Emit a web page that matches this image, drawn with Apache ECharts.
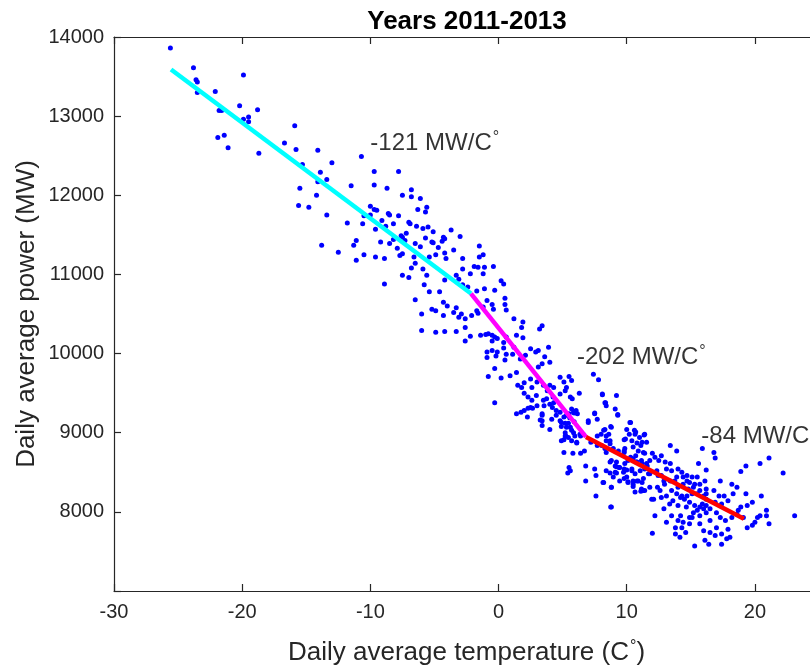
<!DOCTYPE html>
<html>
<head>
<meta charset="utf-8">
<script src="https://cdn.jsdelivr.net/npm/echarts@6/dist/echarts.min.js"></script>
<style>
  html, body { margin: 0; padding: 0; background: #ffffff; }
  #chart { width: 810px; height: 668px; }
</style>
</head>
<body>
<div id="chart"></div>
<script>
// Daily average temperature (°C) vs daily average power (MW), 2011-2013
const xTickLabels = [-30, -20, -10, 0, 10, 20];
const yTickLabels = [8000, 9000, 10000, 11000, 12000, 13000, 14000];

// [temperature, power] observations, grouped by temperature band
const veryColdDays = [
  [-25.6,13860],[-23.8,13610],[-23.6,13460],[-23.5,13430],[-23.5,13300],[-22.1,13310],[-19.9,13520],
  [-21.8,13070],[-21.6,13070],[-20.2,13130],[-18.8,13080],[-19.9,12960],[-19.5,12990],[-19.5,12930],
  [-21.9,12730],[-21.4,12760],[-21.1,12600],[-18.7,12530],[-15.9,12880],[-16.7,12660],[-15.8,12580],
  [-14.1,12570],[-13.0,12410],[-15.3,12390],[-13.9,12290],[-13.4,12200],[-14.1,12170],[-10.7,12490],
  [-15.5,12090],[-14.2,12000],[-15.6,11870],[-14.8,11850],[-13.4,11750],[-11.5,12120],[-9.7,12300],
  [-9.7,12130],[-8.7,12090],[-7.8,12300],[-11.8,11650],[-10.6,11640],[-10.0,11860],[-10.0,11750],
  [-9.7,11820],[-9.5,11810],[-9.1,11680],[-8.6,11770],[-8.5,11750],[-8.2,11640],[-8.8,11610],
  [-9.6,11570],[-9.2,11410],[-8.5,11390],[-8.2,11440],[-7.9,11330],[-13.8,11370],[-12.5,11280],
  [-11.1,11430],[-11.3,11370],[-10.5,11250],[-11.1,11180],[-9.6,11220],[-8.9,11200],[-7.8,11740],
  [-10.5,11740]
];
const coldDays = [
  [-6.8,12070],[-7.5,12000],[-6.8,11980],[-6.1,11960],[-5.6,11850],[-6.3,11820],[-5.7,11790],
  [-7.0,11660],[-6.9,11640],[-6.4,11610],[-5.9,11580],[-5.5,11600],[-5.1,11540],[-4.3,11470],
  [-4.2,11450],[-4.4,11420],[-7.6,11490],[-7.5,11470],[-7.2,11520],[-7.3,11430],[-6.5,11390],
  [-5.7,11460],[-6.1,11350],[-5.2,11410],[-5.1,11400],[-4.7,11340],[-5.4,11220],[-4.9,11250],
  [-4.2,11270],[-4.1,11200],[-7.5,11260],[-7.7,11240],[-6.6,11220],[-6.5,11140],[-6.8,11080],
  [-5.9,11070],[-7.5,10990],[-7.0,10960],[-5.6,10990],[-5.8,10870],[-5.4,10780],[-4.6,10780],
  [-4.2,10930],[-4.3,10650],[-6.5,10680],[-5.2,10560],[-4.9,10540],[-6.0,10500],[-4.3,10480],
  [-4.0,10600],[-8.9,10880]
];
const coolDays = [
  [-3.7,11560],[-3.0,11480],[-1.5,11360],[-1.2,11250],[-1.5,11220],[-3.5,11310],[-2.8,11200],
  [-1.9,11100],[-1.6,11090],[-1.1,11090],[-0.4,11100],[-2.8,11070],[-2.2,11010],[-3.3,10990],
  [-3.1,10940],[-1.2,11010],[0.2,10920],[0.4,10880],[-0.3,10800],[-1.1,10820],[-1.7,10790],
  [-2.8,10870],[-2.4,10840],[0.5,10700],[0.5,10620],[0.6,10550],[-0.5,10620],[-0.4,10560],
  [-0.9,10670],[-1.2,10590],[-1.7,10540],[-1.6,10510],[-2.1,10480],[-2.9,10500],[-3.3,10580],
  [-3.5,10520],[-2.6,10440],[-3.1,10460],[-6.0,10290],[-4.2,10280],[-3.3,10280],[-2.6,10330],
  [-2.2,10220],[-2.6,10160],[-1.4,10230],[-1.0,10240],[-0.8,10250],[-0.5,10230],[-0.3,10210],
  [-0.1,10190],[-0.5,10160],[0.4,10140],[0.6,10210],[1.2,10440],[1.9,10400],[1.8,10330],
  [1.4,10230],[1.9,10200],[3.4,10350],[3.2,10310],[1.2,10080],[0.4,10070],[-0.1,10020],
  [0.6,9990],[0.5,9920],[1.1,9990],[1.7,9930],[2.1,9980],[2.5,10060],[2.9,10020],[3.1,10040],
  [3.6,9960],[3.9,10080],[3.4,9870],[4.0,9890],[3.1,9830],[-0.9,9950],[-0.9,10020],[-0.5,10040],
  [-0.2,9970],[-0.3,9810],[-0.8,9710],[0.2,9690],[0.9,9720],[2.0,9630],[2.5,9680],[3.0,9640],
  [-4.9,10270]
];
const springDays = [
  [1.4,9760],[1.5,9600],[1.8,9570],[2.6,9570],[3.5,9600],[3.8,9530],[4.3,9570],[4.8,9700],
  [5.1,9640],[5.5,9710],[5.7,9660],[5.3,9570],[4.8,9490],[6.3,9500],[5.6,9450],[3.5,9410],
  [2.6,9410],[2.0,9280],[1.4,9240],[-0.3,9380],[2.5,9320],[3.0,9340],[3.4,9240],[4.0,9360],
  [4.3,9380],[4.5,9280],[5.1,9200],[5.5,9240],[5.9,9250],[5.9,9140],[4.8,9150],[4.0,9040],
  [3.4,9150],[4.9,9080],[5.3,9070],[5.7,9030],[5.1,8910],[5.7,8900],[6.4,8960],[6.6,8980],
  [7.0,9130],[7.5,9240],[7.4,9740],[7.8,9670],[8.1,9490],[8.3,9380],[9.1,9300],[9.2,9470],
  [10.3,9130],[10.6,9030],[10.0,9040],[11.0,8940],[11.4,8980],[8.2,9030],[8.6,8980],[8.7,8900],
  [7.7,8960],[7.2,8880],
  [4.0,9600],[2.0,9500],[2.3,9450],[2.95,9470],[3.75,9430],[3.55,9340],[4.25,9450],[5.2,9530],
  [5.75,9430],[1.75,9260],[2.3,9310],[2.65,9310],[2.25,9200],[3.25,9160],[3.4,9220],[3.4,9090],
  [4.15,9170],[4.5,9220],[4.2,9320],[4.8,9260],[4.9,9130],[5.2,9120],[5.3,9220],[5.45,9120],
  [5.55,9190],[5.7,9300],[5.85,9260],[6.05,9280],[6.15,9240],[5.6,9070],[5.85,9000],[5.2,9000],
  [5.25,8960],[4.9,8900],[5.45,8940],[5.95,8960],[6.1,8880],[6.35,8980],
  [7.0,9150],[7.5,9250],[7.7,9170],[8.1,9480],[8.35,9380],[8.4,9340],[9.3,9220],[8.75,9080],
  [8.3,9040],[8.4,8960],[8.0,8980],[10.25,9130],[10.65,8980],[11.35,8970],[11.55,8880],[9.8,8910]
];
const mildDays = [
  [5.1,8750],[5.5,8560],[5.6,8520],[5.4,8490],[5.8,8740],[6.4,8740],[6.7,8770],[6.8,8580],
  [6.8,8390],[7.6,8200],[8.8,8060],[7.5,8540],[7.6,8460],[8.2,8370],[8.8,8310],[8.7,8490],
  [9.2,8490],[8.7,8630],[9.2,8570],[9.4,8560],[8.4,8750],[9.8,8770],[9.8,8540],[10.0,8530],
  [10.4,8520],[9.8,8420],[10.1,8380],[10.5,8390],[10.8,8390],[10.5,8320],[11.2,8370],[11.4,8270],
  [11.1,8260],[10.7,8710],[10.3,8690],[10.8,8630],[11.2,8610],[11.6,8580],[11.7,8480],[11.8,8650],
  [11.4,8740],[11.1,8840],[7.7,8840],[8.4,8900],[8.7,8860],[9.9,8920],[10.4,8900],[10.8,8870],
  [11.2,8880],[10.7,9010],[6.1,8870],[5.2,8960],[9.3,9230],[8.8,9070],[10.2,8980],
  [8.05,8840],[8.3,8800],[8.95,8800],[9.35,8770],[9.85,8800],[10.5,8820],[10.9,8770],[11.3,8750],
  [9.8,8750],[8.8,8650],[9.2,8630],[9.1,8580],[9.45,8560],[9.85,8610],[10.1,8650],[10.5,8670],
  [10.75,8630],[11.15,8650],[11.55,8610],[8.4,8520],[9.1,8500],[9.75,8500],[10.0,8440],[10.4,8540],
  [10.65,8480],[11.05,8520],[11.4,8540],[11.8,8480],[11.3,8420],[10.9,8390],[10.5,8350],[10.1,8370],
  [9.45,8390],[8.95,8440],[8.15,8370],[8.8,8310],[11.15,8290],[11.8,8310],[11.95,8160],[10.65,8250],
  [11.3,8270],[8.75,8060]
];
const warmDays = [
  [15.9,8800],[16.8,8750],[16.9,8680],[19.3,8580],[18.9,8510],[20.4,8610],[21.1,8680],[22.2,8490],
  [23.1,7950],[12.0,8740],[12.2,8690],[12.7,8710],[13.4,8840],[13.9,8770],[12.5,8650],[13.0,8630],
  [13.4,8610],[13.1,8540],[13.5,8520],[14.0,8540],[14.3,8500],[14.7,8460],[15.1,8440],[15.5,8440],
  [15.6,8610],[16.2,8530],[14.7,8390],[14.4,8350],[13.9,8440],[13.4,8390],[14.0,8310],[14.8,8290],
  [15.2,8310],[15.7,8350],[16.1,8390],[16.2,8290],[16.8,8270],[17.3,8390],[17.6,8200],[17.2,8200],
  [18.2,8350],[18.6,8310],[18.3,8230],[17.9,8140],[17.4,8100],[16.9,8120],[16.2,8080],[15.9,8100],
  [16.0,8040],[16.2,7990],[15.7,8060],[15.5,8020],[15.3,8080],[14.9,8120],[14.5,8160],[14.2,8180],
  [13.9,8230],[13.6,8140],[13.1,8200],[12.6,8270],[12.2,7950],[13.5,7950],[14.2,7950],[14.9,7930],
  [14.0,7890],[13.8,7800],[14.3,7800],[14.6,7740],[13.8,7720],[13.1,7870],[12.0,7730],[15.3,7570],
  [16.0,7760],[16.1,7640],[16.4,7590],[16.9,7700],[17.4,7590],[17.8,7660],[17.9,7780],[18.2,7930],
  [18.7,8020],[19.4,7800],[19.8,7830],[20.0,7870],[20.2,7930],[20.4,7950],[20.9,8020],[20.9,7950],
  [21.1,7850],[19.4,8080],[19.8,8120],[20.5,8200],[19.3,8230],[18.9,8060],[19.1,7930],[18.6,7970],
  [17.0,7800],[16.5,7890],[16.2,8160],[16.0,8200],[15.5,8230],[15.1,8230],[14.7,8200],[15.1,7930],
  [12.9,8390],[12.4,8310],[12.1,8160],[12.9,8040],
  [12.35,8520],[12.7,8460],[12.45,8460],[12.95,8350],[13.75,8390],[14.4,8440],[14.9,8370],[15.3,8350],
  [15.7,8270],[16.2,8230],[14.3,8200],[13.5,8270],[12.7,8180],[13.35,8100],[14.0,8080],[14.65,8060],
  [15.2,7990],[15.7,7950],[16.5,8040],[17.0,7990],[17.3,7930],[17.7,7890],[16.5,7740],[15.7,7850],
  [14.9,7850],[14.4,7870],[14.15,7680],[17.4,7720],[18.05,7680]
];

// Piecewise linear fit: start point, breakpoints and slope of each piece (MW per °C)
const fitStart = [-25.55, 13590];
const fitBreaks = [-2.15, 6.82, 19.14];
const fitSlopes = [-121, -202, -84];
const fitColors = ['#00ffff', '#ff00ff', '#ff0000'];

// Slope annotations: [temperature, power] anchor of each label
const slopeLabelAnchors = [[-10.0, 12650], [6.12, 9955], [15.82, 8958]];

const fontFamily = 'Liberation Sans, Arial, Helvetica, sans-serif';
const ink = '#262626';

const fitSegments = [];
let p0 = fitStart.slice();
fitBreaks.forEach((xb, i) => {
  const p1 = [xb, p0[1] + fitSlopes[i] * (xb - p0[0])];
  fitSegments.push([p0, p1]);
  p0 = p1;
});

const allDays = [].concat(veryColdDays, coldDays, coolDays, springDays, mildDays, warmDays);

const degRich = {
  deg: { fontSize: 16, verticalAlign: 'top', padding: [0, 0, 12, 1], fontFamily: fontFamily }
};

const chart = echarts.init(document.getElementById('chart'), null, { renderer: 'canvas' });

const axisLineStyle = { onZero: false, lineStyle: { color: ink, width: 1.2 } };
const tickStyle = { inside: true, length: 7, lineStyle: { color: ink, width: 1.2 } };

chart.setOption({
  animation: false,
  backgroundColor: '#ffffff',
  title: {
    text: 'Years 2011-2013',
    left: 462,
    top: 4,
    textAlign: 'center',
    textStyle: { fontSize: 26, fontWeight: 'bold', color: '#000', fontFamily: fontFamily }
  },
  grid: {
    left: 114, top: 37, width: 705, height: 554,
    containLabel: false, outerBoundsMode: 'none'
  },
  xAxis: [
    {
      type: 'value', min: -30, max: 25, interval: 10,
      axisLine: axisLineStyle, axisTick: tickStyle, splitLine: { show: false },
      axisLabel: {
        fontSize: 20, color: ink, margin: 11, fontFamily: fontFamily,
        formatter: v => (xTickLabels.indexOf(v) >= 0 ? String(v) : '')
      },
      name: 'Daily average temperature (C{deg|°})',
      nameLocation: 'middle', nameGap: 48,
      nameTextStyle: { fontSize: 26, color: ink, fontFamily: fontFamily, rich: degRich }
    },
    {
      type: 'value', position: 'top', min: -30, max: 25, interval: 10,
      axisLine: axisLineStyle, axisTick: tickStyle, splitLine: { show: false },
      axisLabel: { show: false }
    }
  ],
  yAxis: [
    {
      type: 'value', min: 7000, max: 14000, interval: 1000,
      axisLine: axisLineStyle, axisTick: tickStyle, splitLine: { show: false },
      axisLabel: {
        fontSize: 20, color: ink, margin: 10, fontFamily: fontFamily,
        formatter: v => (yTickLabels.indexOf(v) >= 0 ? String(v) : '')
      },
      name: 'Daily average power (MW)',
      nameLocation: 'middle', nameGap: 74, nameMoveOverlap: false,
      nameTextStyle: { fontSize: 26, color: ink, fontFamily: fontFamily }
    },
    {
      type: 'value', position: 'right', min: 7000, max: 14000, interval: 1000,
      axisLine: axisLineStyle, axisTick: tickStyle, splitLine: { show: false },
      axisLabel: { show: false }
    }
  ],
  series: [
    {
      name: 'Daily observations',
      type: 'scatter',
      data: allDays,
      symbol: 'circle',
      symbolSize: 5,
      itemStyle: { color: '#0000ff', opacity: 1 },
      z: 2
    },
    ...fitSegments.map((seg, i) => ({
      name: 'Fit ' + (i + 1),
      type: 'line',
      data: seg,
      showSymbol: false,
      symbol: 'none',
      lineStyle: { color: fitColors[i], width: 4.5, cap: 'butt' },
      z: 3
    })),
    {
      name: 'Slopes',
      type: 'scatter',
      symbolSize: 0,
      data: slopeLabelAnchors.map((p, i) => ({
        value: p,
        labelText: fitSlopes[i] + ' MW/C',
        showDeg: i < 2
      })),
      label: {
        show: true,
        position: 'right',
        distance: 0,
        fontSize: 24,
        color: '#000',
        fontFamily: fontFamily,
        formatter: params => params.data.labelText + (params.data.showDeg ? '{deg|°}' : ''),
        rich: degRich
      },
      z: 4,
      silent: true
    }
  ]
});
</script>
</body>
</html>
